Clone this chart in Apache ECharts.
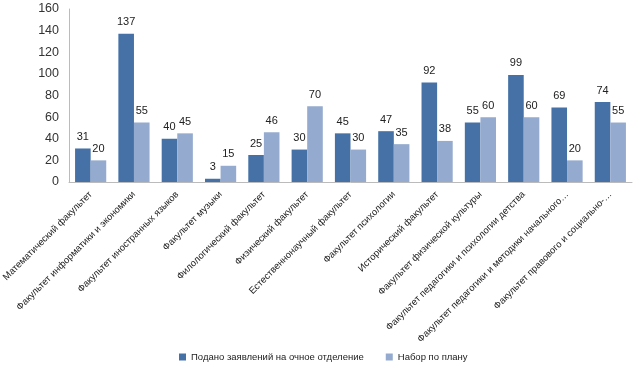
<!DOCTYPE html>
<html><head><meta charset="utf-8">
<script src="https://cdn.jsdelivr.net/npm/echarts@6/dist/echarts.min.js"></script>
<style>html,body{margin:0;padding:0;background:#fff}#c{width:640px;height:372px}</style>
</head><body><div id="c"></div>
<script>
const categories = [
  "Математический факультет",
  "Факультет информатики и экономики",
  "Факультет иностранных языков",
  "Факультет музыки",
  "Филологический факультет",
  "Физический факультет",
  "Естественнонаучный факультет",
  "Факультет психологии",
  "Исторический факультет",
  "Факультет физической культуры",
  "Факультет педагогики и психологии детства",
  "Факультет педагогики и методики начального…",
  "Факультет правового и социально-…"
];
const applications = [31, 137, 40, 3, 25, 30, 45, 47, 92, 55, 99, 69, 74];
const plan = [20, 55, 45, 15, 46, 70, 30, 35, 38, 60, 60, 20, 55];
const seriesNames = ["Подано заявлений на очное отделение", "Набор по плану"];
const yTicks = {min: 0, max: 160, interval: 20};

const font = "Liberation Sans";
const chart = echarts.init(document.getElementById('c'));
chart.setOption({
  animation: false,
  textStyle: {fontFamily: font},
  grid: {left: 69, right: 8, top: 9, bottom: 190, containLabel: false, outerBoundsMode: 'none'},
  legend: {
    bottom: 5, left: 174, itemWidth: 7, itemHeight: 7, itemGap: 22,
    icon: 'rect',
    textStyle: {fontSize: 9.5, color: '#222', fontFamily: font},
    data: seriesNames
  },
  xAxis: {
    type: 'category', data: categories,
    axisLine: {lineStyle: {color: '#bbb'}},
    axisTick: {show: false},
    axisLabel: {rotate: 45, interval: 0, fontSize: 9.5, color: '#222', margin: 11, fontFamily: font}
  },
  yAxis: {
    type: 'value', min: yTicks.min, max: yTicks.max, interval: yTicks.interval,
    axisLine: {show: true, lineStyle: {color: '#bbb'}},
    axisTick: {show: false},
    splitLine: {show: false},
    axisLabel: {fontSize: 12.5, color: '#333', margin: 10, fontFamily: font}
  },
  series: [
    {name: seriesNames[0], type: 'bar', data: applications, barGap: '0%', barCategoryGap: '28%',
     itemStyle: {color: '#4571A6'},
     label: {show: true, position: 'top', fontSize: 11, color: '#222', distance: 6}},
    {name: seriesNames[1], type: 'bar', data: plan,
     itemStyle: {color: '#94AACE'},
     label: {show: true, position: 'top', fontSize: 11, color: '#222', distance: 6}}
  ]
});
</script></body></html>
